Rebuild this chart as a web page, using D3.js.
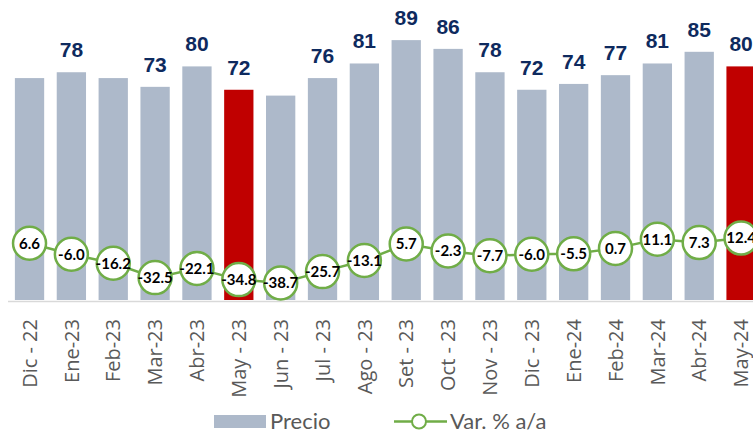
<!DOCTYPE html>
<html>
<head>
<meta charset="utf-8">
<script src="https://cdn.jsdelivr.net/npm/d3@7"></script>
<style>
  html, body { margin: 0; padding: 0; background: #fff; overflow: hidden; }
</style>
</head>
<body>
<div id="chart"></div>
<script>
var svgWidth = 753;
var svgHeight = 434;

// data
var months = ["Dic - 22", "Ene-23", "Feb-23", "Mar-23", "Abr-23", "May - 23", "Jun - 23", "Jul - 23",
  "Ago - 23", "Set - 23", "Oct - 23", "Nov - 23", "Dic - 23", "Ene-24", "Feb-24", "Mar-24", "Abr-24", "May-24"];
var precio = [76, 78, 76, 73, 80, 72, 70, 76, 81, 89, 86, 78, 72, 74, 77, 81, 85, 80];
// which bars carry a value label
var showLabel = [false, true, false, true, true, true, false, true, true, true, true, true, true, true, true, true, true, true];
var highlight = ["May - 23", "May-24"];
var varAnual = [6.6, -6.0, -16.2, -32.5, -22.1, -34.8, -38.7, -25.7, -13.1, 5.7, -2.3, -7.7, -6.0, -5.5, 0.7, 11.1, 7.3, 12.4];

var data = months.map(function(m, i) {
  return { mes: m, precio: precio[i], va: varAnual[i], label: showLabel[i] };
});

var svg = d3.select("#chart")
  .append("svg")
  .attr("width", svgWidth)
  .attr("height", svgHeight);

var xScale = d3.scaleBand()
  .domain(months)
  .range([8.6, 762])
  .paddingInner(0.3)
  .paddingOuter(0.15);

var yBar = d3.scaleLinear()
  .domain([0, 100])
  .range([300, 8]);

var yLine = d3.scaleLinear()
  .domain([-60, 60])
  .range([301.8, 196.2]);

var cx = d => xScale(d.mes) + xScale.bandwidth() / 2;

// bars
svg.selectAll("rect.bar")
  .data(data)
  .enter()
  .append("rect")
  .attr("class", "bar")
  .attr("x", d => xScale(d.mes))
  .attr("y", d => yBar(d.precio))
  .attr("width", xScale.bandwidth())
  .attr("height", d => yBar(0) - yBar(d.precio))
  .attr("fill", d => highlight.indexOf(d.mes) >= 0 ? "#C00000" : "#ADB9CA");

// axis line
svg.append("line")
  .attr("x1", 8).attr("x2", svgWidth)
  .attr("y1", 301.5).attr("y2", 301.5)
  .attr("stroke", "#D9D9D9")
  .attr("stroke-width", 1.5);

// bar value labels
svg.selectAll(null)
  .data(data.filter(d => d.label))
  .enter()
  .append("text")
  .attr("x", cx)
  .attr("y", d => yBar(d.precio) - 15)
  .attr("text-anchor", "middle")
  .style("font-family", "'Liberation Sans', Arial, sans-serif")
  .style("font-weight", "bold")
  .style("font-size", "21px")
  .attr("fill", "#0E2A5E")
  .text(d => d.precio);

// line series
var line = d3.line()
  .x(cx)
  .y(d => yLine(d.va));

svg.append("path")
  .datum(data)
  .attr("d", line)
  .attr("fill", "none")
  .attr("stroke", "#70AD47")
  .attr("stroke-width", 2.5);

svg.selectAll("circle.pt")
  .data(data)
  .enter()
  .append("circle")
  .attr("class", "pt")
  .attr("cx", cx)
  .attr("cy", d => yLine(d.va))
  .attr("r", 16.5)
  .attr("fill", "#fff")
  .attr("stroke", "#70AD47")
  .attr("stroke-width", 2.5);

svg.selectAll(null)
  .data(data)
  .enter()
  .append("text")
  .attr("x", cx)
  .attr("y", d => yLine(d.va))
  .attr("dy", "0.36em")
  .attr("text-anchor", "middle")
  .style("font-family", "Lato, 'Open Sans', sans-serif")
  .style("font-weight", "bold")
  .style("font-size", "15px")
  .attr("fill", "#000")
  .text(d => d.va.toFixed(1));

// x tick labels, rotated
svg.selectAll(null)
  .data(data)
  .enter()
  .append("text")
  .attr("transform", d => `translate(${cx(d)}, 319) rotate(-90)`)
  .attr("dy", "0.36em")
  .attr("text-anchor", "end")
  .style("font-family", "'Open Sans', sans-serif")
  .style("font-size", "20px")
  .attr("fill", "#595959")
  .text(d => d.mes);

// legend
var legend = svg.append("g");
legend.append("rect")
  .attr("x", 214).attr("y", 415)
  .attr("width", 52).attr("height", 13)
  .attr("fill", "#ADB9CA");
legend.append("text")
  .attr("x", 270).attr("y", 429)
  .style("font-family", "Lato, sans-serif")
  .style("font-size", "22px")
  .attr("fill", "#595959")
  .text("Precio");
legend.append("line")
  .attr("x1", 394).attr("x2", 447)
  .attr("y1", 421.5).attr("y2", 421.5)
  .attr("stroke", "#70AD47")
  .attr("stroke-width", 2.5);
legend.append("circle")
  .attr("cx", 419).attr("cy", 421.5)
  .attr("r", 7)
  .attr("fill", "#fff")
  .attr("stroke", "#70AD47")
  .attr("stroke-width", 2);
legend.append("text")
  .attr("x", 450).attr("y", 429)
  .style("font-family", "Lato, sans-serif")
  .style("font-size", "22px")
  .attr("fill", "#595959")
  .text("Var. % a/a");
</script>
</body>
</html>
